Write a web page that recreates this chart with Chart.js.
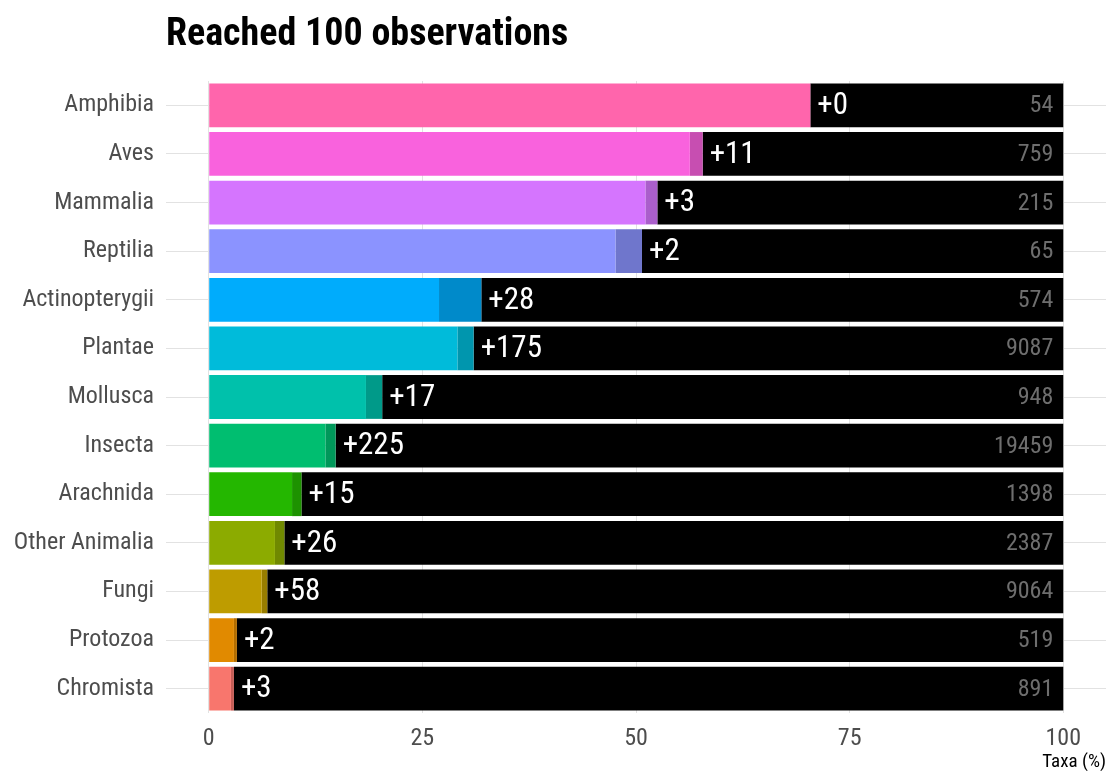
<!DOCTYPE html>
<html>
<head>
<meta charset="utf-8">
<script src="https://cdn.jsdelivr.net/npm/chart.js@4/dist/chart.umd.min.js"></script>
<style>
  html, body { margin: 0; padding: 0; background: #fff; }
  #chart { display: block; }
</style>
</head>
<body>
<canvas id="chart" width="1109" height="771"></canvas>
<script>
// taxa groups, top to bottom
const groups = ['Amphibia', 'Aves', 'Mammalia', 'Reptilia', 'Actinopterygii', 'Plantae',
    'Mollusca', 'Insecta', 'Arachnida', 'Other Animalia', 'Fungi', 'Protozoa', 'Chromista'];
// % of taxa that had reached 100 observations before
const pctBefore = [70.4, 56.3, 51.1, 47.6, 26.95, 29.1, 18.4, 13.65, 9.75, 7.75, 6.2, 2.95, 2.6];
// % reached now (before + new ones)
const pctNow = [70.4, 57.8, 52.5, 50.7, 31.9, 31.0, 20.3, 14.85, 10.85, 8.85, 6.85, 3.3, 2.95];
const newTaxa = [0, 11, 3, 2, 28, 175, 17, 225, 15, 26, 58, 2, 3];
const totalTaxa = [54, 759, 215, 65, 574, 9087, 948, 19459, 1398, 2387, 9064, 519, 891];
const xTicks = [0, 25, 50, 75, 100];

const colors = ['#FF65AC', '#F962DD', '#D575FE', '#8B93FF', '#00ACFC', '#00BBDA',
    '#00C1AB', '#00BE70', '#24B700', '#8CAB00', '#BE9C00', '#E18A00', '#F8766D'];
const darkColors = ['#CC5189', '#C74EB1', '#AA5ECB', '#6F76CC', '#008ACA', '#0096AE',
    '#009A89', '#00985A', '#1D9200', '#708900', '#987D00', '#B46E00', '#C65E57'];

const FONT = "'Roboto Condensed', 'Liberation Sans Narrow', 'Roboto', sans-serif";

const labelsPlugin = {
    id: 'labels',
    afterDatasetsDraw(chart) {
        const ctx = chart.ctx;
        const area = chart.chartArea;
        const x = chart.scales.x;
        const y = chart.scales.y;
        ctx.save();
        ctx.textBaseline = 'middle';
        groups.forEach((g, i) => {
            const yc = y.getPixelForValue(i);
            ctx.font = '31px ' + FONT;
            ctx.fillStyle = '#ffffff';
            ctx.textAlign = 'left';
            ctx.fillText('+' + newTaxa[i], x.getPixelForValue(pctNow[i]) + 7, yc + 1);
            ctx.font = '24px ' + FONT;
            ctx.fillStyle = '#6e6e6e';
            ctx.textAlign = 'right';
            ctx.fillText(totalTaxa[i], x.getPixelForValue(100) - 10, yc + 1);
        });
        // title
        ctx.font = 'bold 38px ' + FONT;
        ctx.fillStyle = '#000';
        ctx.textAlign = 'left';
        ctx.textBaseline = 'alphabetic';
        ctx.fillText('Reached 100 observations', area.left, 45);
        // x axis title
        ctx.font = '19px ' + FONT;
        ctx.textAlign = 'right';
        ctx.fillText('Taxa (%)', area.right, 767);
        ctx.restore();
    }
};

const ctx = document.getElementById('chart').getContext('2d');
const myChart = new Chart(ctx, {
    type: 'bar',
    data: {
        labels: groups,
        datasets: [
            { data: pctBefore.map(v => [0, v]), backgroundColor: colors },
            { data: pctBefore.map((v, i) => [v, pctNow[i]]), backgroundColor: darkColors },
            { data: pctNow.map(v => [v, 100]), backgroundColor: '#000000' }
        ]
    },
    options: {
        indexAxis: 'y',
        responsive: false,
        animation: false,
        layout: { padding: { top: 81, right: 3, left: 0, bottom: 0 } },
        datasets: {
            bar: { grouped: false, barPercentage: 0.9, categoryPercentage: 1.0, borderWidth: 0 }
        },
        plugins: {
            legend: { display: false },
            tooltip: { enabled: false }
        },
        scales: {
            x: {
                min: -5,
                max: 105,
                afterBuildTicks: scale => { scale.ticks = xTicks.map(v => ({ value: v })); },
                afterFit: scale => { scale.height = 58; },
                border: { display: false },
                grid: { color: '#e2e2e2', drawTicks: false },
                ticks: { color: '#4d4d4d', padding: 12, font: { family: FONT, size: 24 } }
            },
            y: {
                afterFit: scale => { scale.width = 166; },
                border: { display: false },
                grid: { color: '#e2e2e2', drawTicks: false, offset: false },
                ticks: { color: '#4d4d4d', padding: 12, font: { family: FONT, size: 24 } }
            }
        }
    },
    plugins: [labelsPlugin]
});
</script>
</body>
</html>
